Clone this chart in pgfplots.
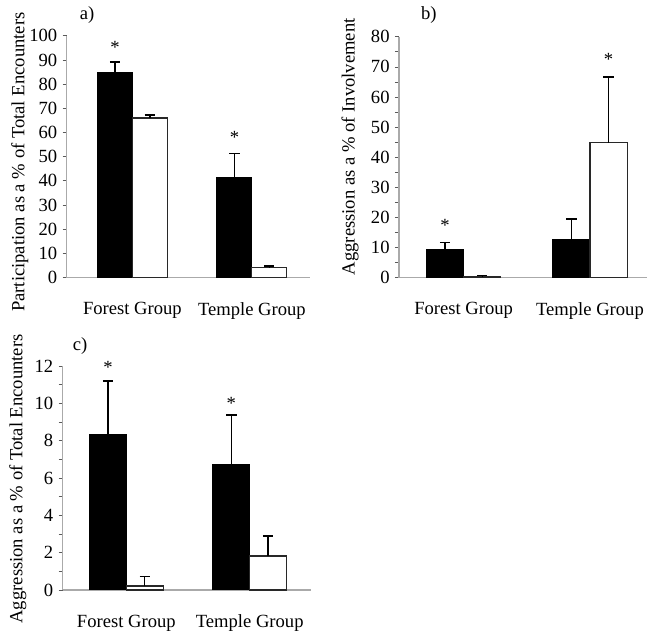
\documentclass[border=0pt]{standalone}
\usepackage{pgfplots}
\pgfplotsset{compat=1.18}
\usepackage{fontspec}
\setmainfont{Liberation Serif}
\definecolor{axgray}{RGB}{170,170,170}
\definecolor{tkgray}{RGB}{90,90,90}
\definecolor{edge}{RGB}{40,40,40}
\pgfplotsset{
  panel/.style={
    scale only axis,
    axis lines*=left,
    axis line style={-, draw=axgray, line width=0.6pt},
    ymin=0,
    tick align=outside,
    major tick length=2pt,
    minor tick length=2pt,
    ytick style={draw=tkgray, line width=0.4pt},
    minor y tick style={draw=tkgray, line width=0.4pt},
    major x tick style={draw=none},
    xtick={0,1},
    xticklabels={Forest Group, Temple Group},
    xticklabel style={yshift=-7.2pt},
    yticklabel style={xshift=0.6pt},
    /pgf/number format/assume math mode=true,
    ybar,
    clip=false,
    error bars/y dir=plus,
    error bars/y explicit,
    error bars/error bar style={line width=0.75pt, black},
    error bars/error mark options={rotate=90, mark size=2.6pt, line width=0.75pt, black},
    every axis y label/.style={rotate=90, anchor=center},
  },
  blackbar/.style={fill=black, draw=black, line width=0.5pt},
  whitebar/.style={fill=white, draw=edge, line width=0.6pt},
}
\begin{document}
\fontsize{9.35pt}{11pt}\selectfont
\begin{tikzpicture}
\path (0,0) rectangle (325pt,315.5pt);
% ---------------- a)
\begin{axis}[panel,
  at={(33.5pt,176pt)}, anchor=south west,
  width=122.5pt, height=121.5pt,
  xmin=-0.55, xmax=1.49, ymax=100,
  ytick={0,10,...,100},
  bar width=0.292,
  ylabel={Participation as a \% of Total Encounters},
  ylabel style={at={(axis description cs:-0.192,0.477)}},
]
\addplot[blackbar, bar shift=-0.146] coordinates {(0,84.9) +- (0,4.3) (1,41.2) +- (0,10.2)};
\addplot[whitebar, bar shift=0.146] coordinates {(0,66.0) +- (0,1.2) (1,4.0) +- (0,0.8)};
\node[anchor=base] at (axis cs:-0.146,92.7) {*};
\node[anchor=base] at (axis cs:0.854,55.6) {*};
\end{axis}
% ---------------- b)
\begin{axis}[panel,
  at={(200.5pt,176pt)}, anchor=south west,
  width=124.5pt, height=121pt,
  xmin=-0.512, xmax=1.449, ymax=80,
  ytick={0,10,...,80},
  minor y tick num=1,
  bar width=0.295,
  ylabel={Aggression as a \% of Involvement},
  ylabel style={at={(axis description cs:-0.197,0.543)}},
]
\addplot[blackbar, bar shift=-0.1475] coordinates {(0,9.3) +- (0,2.4) (1,12.8) +- (0,6.6)};
\addplot[whitebar, bar shift=0.1475] coordinates {(0,0.3) +- (0,0.4) (1,44.8) +- (0,21.8)};
\node[anchor=base] at (axis cs:-0.1475,15.3) {*};
\node[anchor=base] at (axis cs:1.1475,70.5) {*};
\end{axis}
% ---------------- c)
\begin{axis}[panel,
  at={(31.5pt,19pt)}, anchor=south west,
  width=125pt, height=112.5pt,
  xmin=-0.516, xmax=1.5, ymax=12,
  ytick={0,2,...,12},
  minor y tick num=1,
  bar width=0.298,
  ylabel={Aggression as a \% of Total Encounters},
  ylabel style={at={(axis description cs:-0.18,0.496)}},
]
\addplot[blackbar, bar shift=-0.149] coordinates {(0,8.31) +- (0,2.89) (1,6.7) +- (0,2.68)};
\addplot[whitebar, bar shift=0.149] coordinates {(0,0.21) +- (0,0.51) (1,1.82) +- (0,1.07)};
\node[anchor=base] at (axis cs:-0.149,11.58) {*};
\node[anchor=base] at (axis cs:0.851,9.66) {*};
\end{axis}
\node at (43.8pt,307.7pt) {a)};
\node at (215.5pt,307.7pt) {b)};
\node at (40.2pt,141.5pt) {c)};
\end{tikzpicture}
\end{document}
